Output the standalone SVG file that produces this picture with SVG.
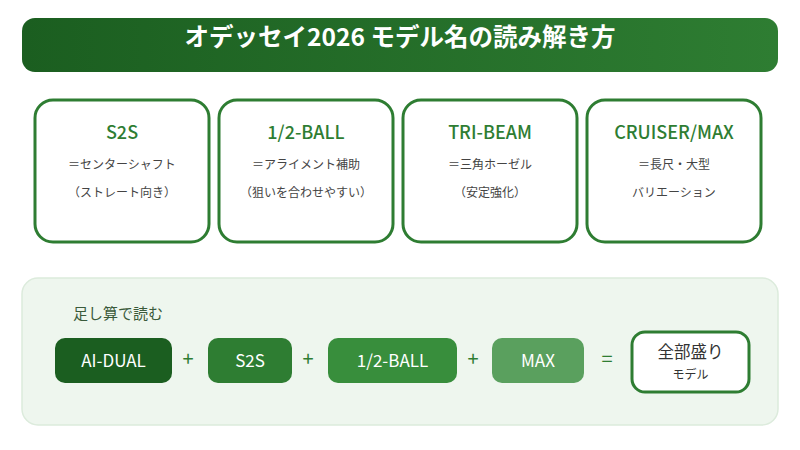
<svg xmlns="http://www.w3.org/2000/svg" width="800" height="450" viewBox="0 0 800 450">
<defs>
<linearGradient id="tg" x1="0" y1="0" x2="1" y2="0">
<stop offset="0" stop-color="#1b5e20"/>
<stop offset="1" stop-color="#2e7d32"/>
</linearGradient>
<style>
text{font-family:"Noto Sans CJK JP","Noto Sans",sans-serif;text-anchor:middle}
.card{fill:#ffffff;stroke:#2e7d32;stroke-width:3}
.ct{font-size:18px;fill:#2e7d32;font-weight:500}
.cd{font-size:12px;fill:#444444}
.pill text{fill:#ffffff;font-size:17px;font-weight:400}
.op{font-size:20px;fill:#2e7d32}
</style>
</defs>
<rect width="800" height="450" fill="#ffffff"/>
<g id="title">
<rect x="22" y="18" width="756" height="54" rx="13" fill="url(#tg)"/>
<text x="400" y="46" font-size="24.5" font-weight="700" fill="#ffffff">オデッセイ2026 モデル名の読み解き方</text>
</g>
<g id="card-s2s">
<rect class="card" x="35" y="100" width="174" height="142" rx="18"/>
<text class="ct" x="122" y="139">S2S</text>
<text class="cd" x="122" y="169">＝センターシャフト</text>
<text class="cd" x="122" y="197">（ストレート向き）</text>
</g>
<g id="card-half">
<rect class="card" x="219" y="100" width="174" height="142" rx="18"/>
<text class="ct" x="306" y="139">1/2-BALL</text>
<text class="cd" x="306" y="169">＝アライメント補助</text>
<text class="cd" x="306" y="197">（狙いを合わせやすい）</text>
</g>
<g id="card-tri">
<rect class="card" x="403" y="100" width="174" height="142" rx="18"/>
<text class="ct" x="490" y="139">TRI-BEAM</text>
<text class="cd" x="490" y="169">＝三角ホーゼル</text>
<text class="cd" x="490" y="197">（安定強化）</text>
</g>
<g id="card-cruiser">
<rect class="card" x="587" y="100" width="174" height="142" rx="18"/>
<text class="ct" x="674" y="139">CRUISER/MAX</text>
<text class="cd" x="674" y="169">＝長尺・大型</text>
<text class="cd" x="674" y="197">バリエーション</text>
</g>
<g id="panel">
<rect x="22" y="278" width="756" height="147" rx="16" fill="#eef6ee" stroke="#dcebdc" stroke-width="1.5"/>
<text x="73" y="319" font-size="15" fill="#3a5a3a" style="text-anchor:start">足し算で読む</text>
</g>
<g id="pill-aidual" class="pill">
<rect x="55" y="338" width="117" height="45" rx="10" fill="#1b5e20"/>
<text x="113.5" y="367">AI-DUAL</text>
</g>
<g id="pill-s2s" class="pill">
<rect x="208" y="338" width="84" height="45" rx="10" fill="#2e7d32"/>
<text x="250" y="367">S2S</text>
</g>
<g id="pill-half" class="pill">
<rect x="328" y="338" width="129" height="45" rx="10" fill="#388e3c"/>
<text x="392.5" y="367">1/2-BALL</text>
</g>
<g id="pill-max" class="pill">
<rect x="492" y="338" width="92" height="45" rx="10" fill="#5aa05e"/>
<text x="538" y="367">MAX</text>
</g>
<g id="result">
<rect x="632" y="332" width="117" height="60" rx="13" fill="#ffffff" stroke="#2e7d32" stroke-width="3"/>
<text x="690.5" y="358" font-size="16.5" fill="#333333">全部盛り</text>
<text x="690.5" y="379" font-size="12" fill="#333333">モデル</text>
</g>
<g id="connectors">
<text class="op" x="188" y="366">+</text>
<text class="op" x="308" y="366">+</text>
<text class="op" x="473" y="366">+</text>
<text class="op" x="607" y="366">=</text>
</g>
</svg>
